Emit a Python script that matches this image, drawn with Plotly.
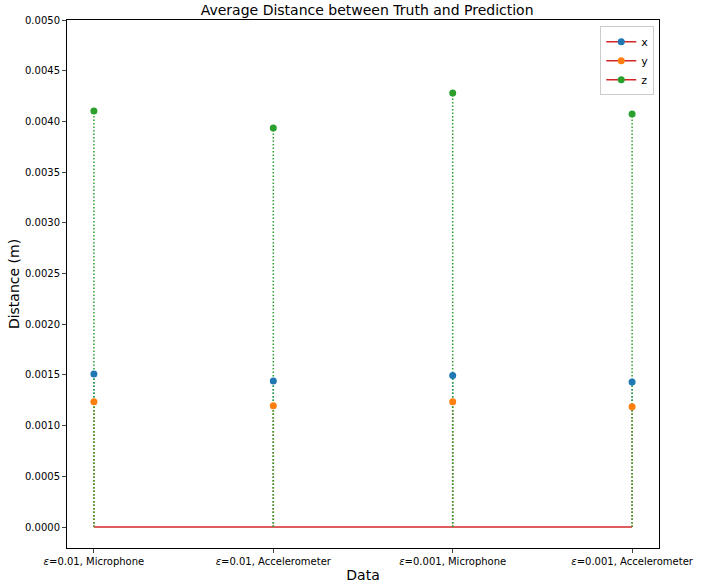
import plotly.graph_objects as go

categories = ["<i>ε</i>=0.01, Microphone", "<i>ε</i>=0.01, Accelerometer",
              "<i>ε</i>=0.001, Microphone", "<i>ε</i>=0.001, Accelerometer"]
x_vals = [0.001510, 0.001440, 0.001495, 0.001430]
y_vals = [0.001235, 0.001195, 0.001235, 0.001185]
z_vals = [0.004103, 0.003935, 0.004280, 0.004073]
series_names = ["x", "y", "z"]
series_colors = ["#1f77b4", "#ff7f0e", "#2ca02c"]
baseline_color = "#d62728"

pos = list(range(len(categories)))
fig = go.Figure()

# baseline
fig.add_trace(go.Scatter(x=[pos[0], pos[-1]], y=[0, 0], mode="lines",
                         line=dict(color=baseline_color, width=1.5),
                         showlegend=False, hoverinfo="skip"))

for name, vals, col in zip(series_names, [x_vals, y_vals, z_vals], series_colors):
    sx, sy = [], []
    for p, v in zip(pos, vals):
        sx += [p, p, None]
        sy += [0, v, None]
    fig.add_trace(go.Scatter(x=sx, y=sy, mode="lines",
                             line=dict(color=col, width=1.5, dash="1.5px,2px"),
                             showlegend=False, hoverinfo="skip"))
for name, vals, col in zip(series_names, [x_vals, y_vals, z_vals], series_colors):
    fig.add_trace(go.Scatter(x=pos, y=vals, mode="markers", name=name,
                             marker=dict(color=col, size=7),
                             showlegend=False))
    fig.add_trace(go.Scatter(x=[None], y=[None], mode="lines+markers", name=name,
                             marker=dict(color=col, size=7),
                             line=dict(color=baseline_color, width=1.5)))

fig.update_layout(
    width=716, height=586,
    margin=dict(l=67, r=57, t=20, b=38),
    plot_bgcolor="white", paper_bgcolor="white",
    font=dict(family="DejaVu Sans", size=10, color="black"),
    title=dict(text="Average Distance between Truth and Prediction",
               x=(67 + 659) / 2 / 716, xref="paper", xanchor="center",
               y=1 - 10/586, yanchor="middle", automargin=False,
               font=dict(size=14)),
    legend=dict(x=0.992, y=0.988, xanchor="right", yanchor="top",
                bordercolor="#cccccc", borderwidth=1, bgcolor="white",
                font=dict(size=11), tracegroupgap=0, itemwidth=30),
    xaxis=dict(range=[-0.15, 3.15], tickvals=pos, ticktext=categories,
               showgrid=False, zeroline=False, showline=True, linecolor="black",
               linewidth=1, mirror=True, ticks="outside", ticklen=4, automargin=False,
               title=dict(text="Data", font=dict(size=14), standoff=4)),
    yaxis=dict(range=[-0.000207, 0.0050], tickvals=[i*0.0005 for i in range(11)],
               tickformat=".4f", showgrid=False, zeroline=False, showline=True,
               linecolor="black", linewidth=1, mirror=True, ticks="outside", ticklen=4,
               automargin=False,
               title=dict(text="Distance (m)", font=dict(size=14), standoff=2)),
)

fig.write_html("out.html", config={"displayModeBar": False},
               post_script="document.body.style.margin='0';document.body.style.overflow='hidden';")
